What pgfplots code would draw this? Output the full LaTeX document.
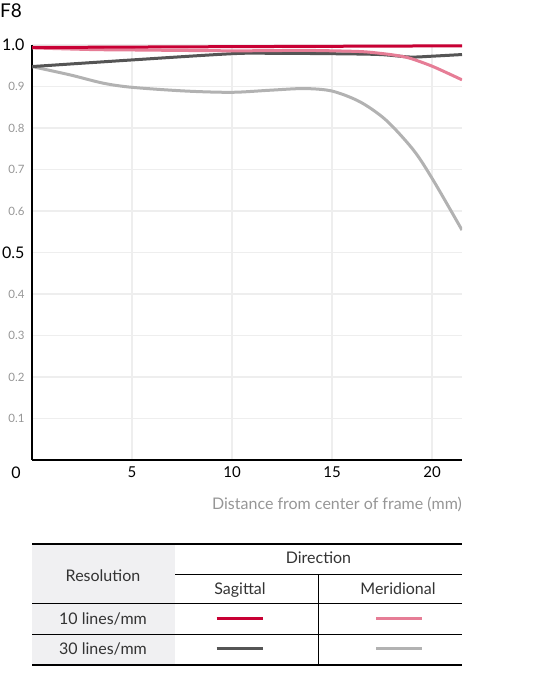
\documentclass[border=0pt]{standalone}
\usepackage{pgfplots}
\pgfplotsset{compat=1.18}
\usepackage{fontspec}
\setmainfont{Lato}

\definecolor{sag10}{RGB}{200,0,52}
\definecolor{mer10}{RGB}{230,125,150}
\definecolor{sag30}{RGB}{85,85,85}
\definecolor{mer30}{RGB}{178,178,178}
\definecolor{gridc}{RGB}{238,238,238}
\definecolor{txt}{RGB}{51,51,51}
\definecolor{lbl}{RGB}{150,150,150}
\definecolor{cellbg}{RGB}{240,240,242}

\newcommand{\px}[1]{\fontsize{#1}{#1}\selectfont}

\begin{document}
\begin{tikzpicture}[x=1pt,y=1pt]
\useasboundingbox (0,0) rectangle (547,677);

% title
\node[anchor=west,inner sep=0pt,font=\px{19}] at (0,666) {F8};

\begin{axis}[
    at={(32pt,217pt)}, anchor=south west,
    scale only axis, width=430pt, height=415pt,
    xmin=0, xmax=21.5, ymin=0, ymax=1,
    axis x line=bottom, axis y line=left,
    axis line style={-, line width=2pt, black},
    xtick={5,10,15,20},
    ytick={0.1,0.2,0.3,0.4,0.5,0.6,0.7,0.8,0.9,1.0},
    yticklabels={
      {\px{11.5}\color{lbl}0.1},{\px{11.5}\color{lbl}0.2},{\px{11.5}\color{lbl}0.3},
      {\px{11.5}\color{lbl}0.4},{\px{16}\color{black}0.5},{\px{11.5}\color{lbl}0.6},
      {\px{11.5}\color{lbl}0.7},{\px{11.5}\color{lbl}0.8},{\px{11.5}\color{lbl}0.9},
      {\px{16}\color{black}1.0}},
    xticklabel style={font=\px{15}, yshift=-3pt},
    yticklabel style={anchor=east, xshift=-4pt},
    major tick length=0pt,
    grid=major,
    major grid style={gridc, line width=1.5pt},
    /pgf/number format/assume math mode=true,
    clip=true,
]
\addplot[mer30, line width=3pt, smooth] coordinates {
  (0,0.948) (1.9,0.928) (3.56,0.908) (5,0.898) (7.7,0.889) (10,0.886)
  (11.9,0.891) (13.6,0.895) (15,0.889) (16.4,0.863) (17.7,0.819)
  (19.07,0.747) (20.05,0.675) (21.5,0.554)
};
\addplot[sag30, line width=3pt, smooth] coordinates {
  (0,0.948) (5,0.964) (10,0.979) (12,0.980) (15,0.979) (17.4,0.977)
  (18.9,0.971) (20,0.973) (21.5,0.977)
};
\addplot[mer10, line width=3pt, smooth] coordinates {
  (0,0.993) (3,0.989) (5,0.988) (10,0.986) (13.4,0.987) (15,0.986)
  (16.5,0.984) (17.4,0.980) (18.2,0.975) (18.9,0.968) (20.05,0.948)
  (21.5,0.916)
};
\addplot[sag10, line width=3pt] coordinates {
  (0,0.994) (10,0.996) (21.5,0.998)
};
\end{axis}

% origin label and x label
\node[font=\px{16}] at (16,204) {0};
\node[anchor=east,inner sep=0pt,font=\px{16},text=lbl] at (462,173) {Distance from center of frame (mm)};

% legend table
\fill[cellbg] (32,133) rectangle (175,12);
\draw[black, line width=1.5pt] (32,133) -- (462,133);
\draw[black, line width=1pt] (175,102.7) -- (462,102.7);
\draw[black, line width=1pt] (32,73) -- (462,73);
\draw[black, line width=1pt] (32,42.7) -- (462,42.7);
\draw[black, line width=1pt] (318.3,102.7) -- (318.3,12);
\draw[black, line width=2pt] (32,12) -- (462,12);

\begin{scope}[every node/.style={font=\px{16}, text=txt, anchor=base, inner sep=0pt}]
\node at (318.5,113.5) {Direction};
\node at (103,95.5) {Resolution};
\node at (240,82.5) {Sagittal};
\node at (398,82.5) {Meridional};
\node at (103,52.5) {10 lines/mm};
\node at (103,22.5) {30 lines/mm};
\end{scope}
\draw[sag10, line width=3pt] (216.7,58) -- (262.7,58);
\draw[mer10, line width=3pt] (376,58) -- (421.7,58);
\draw[sag30, line width=3pt] (216.7,28) -- (262.7,28);
\draw[mer30, line width=3pt] (376,28) -- (421.7,28);
\end{tikzpicture}
\end{document}
